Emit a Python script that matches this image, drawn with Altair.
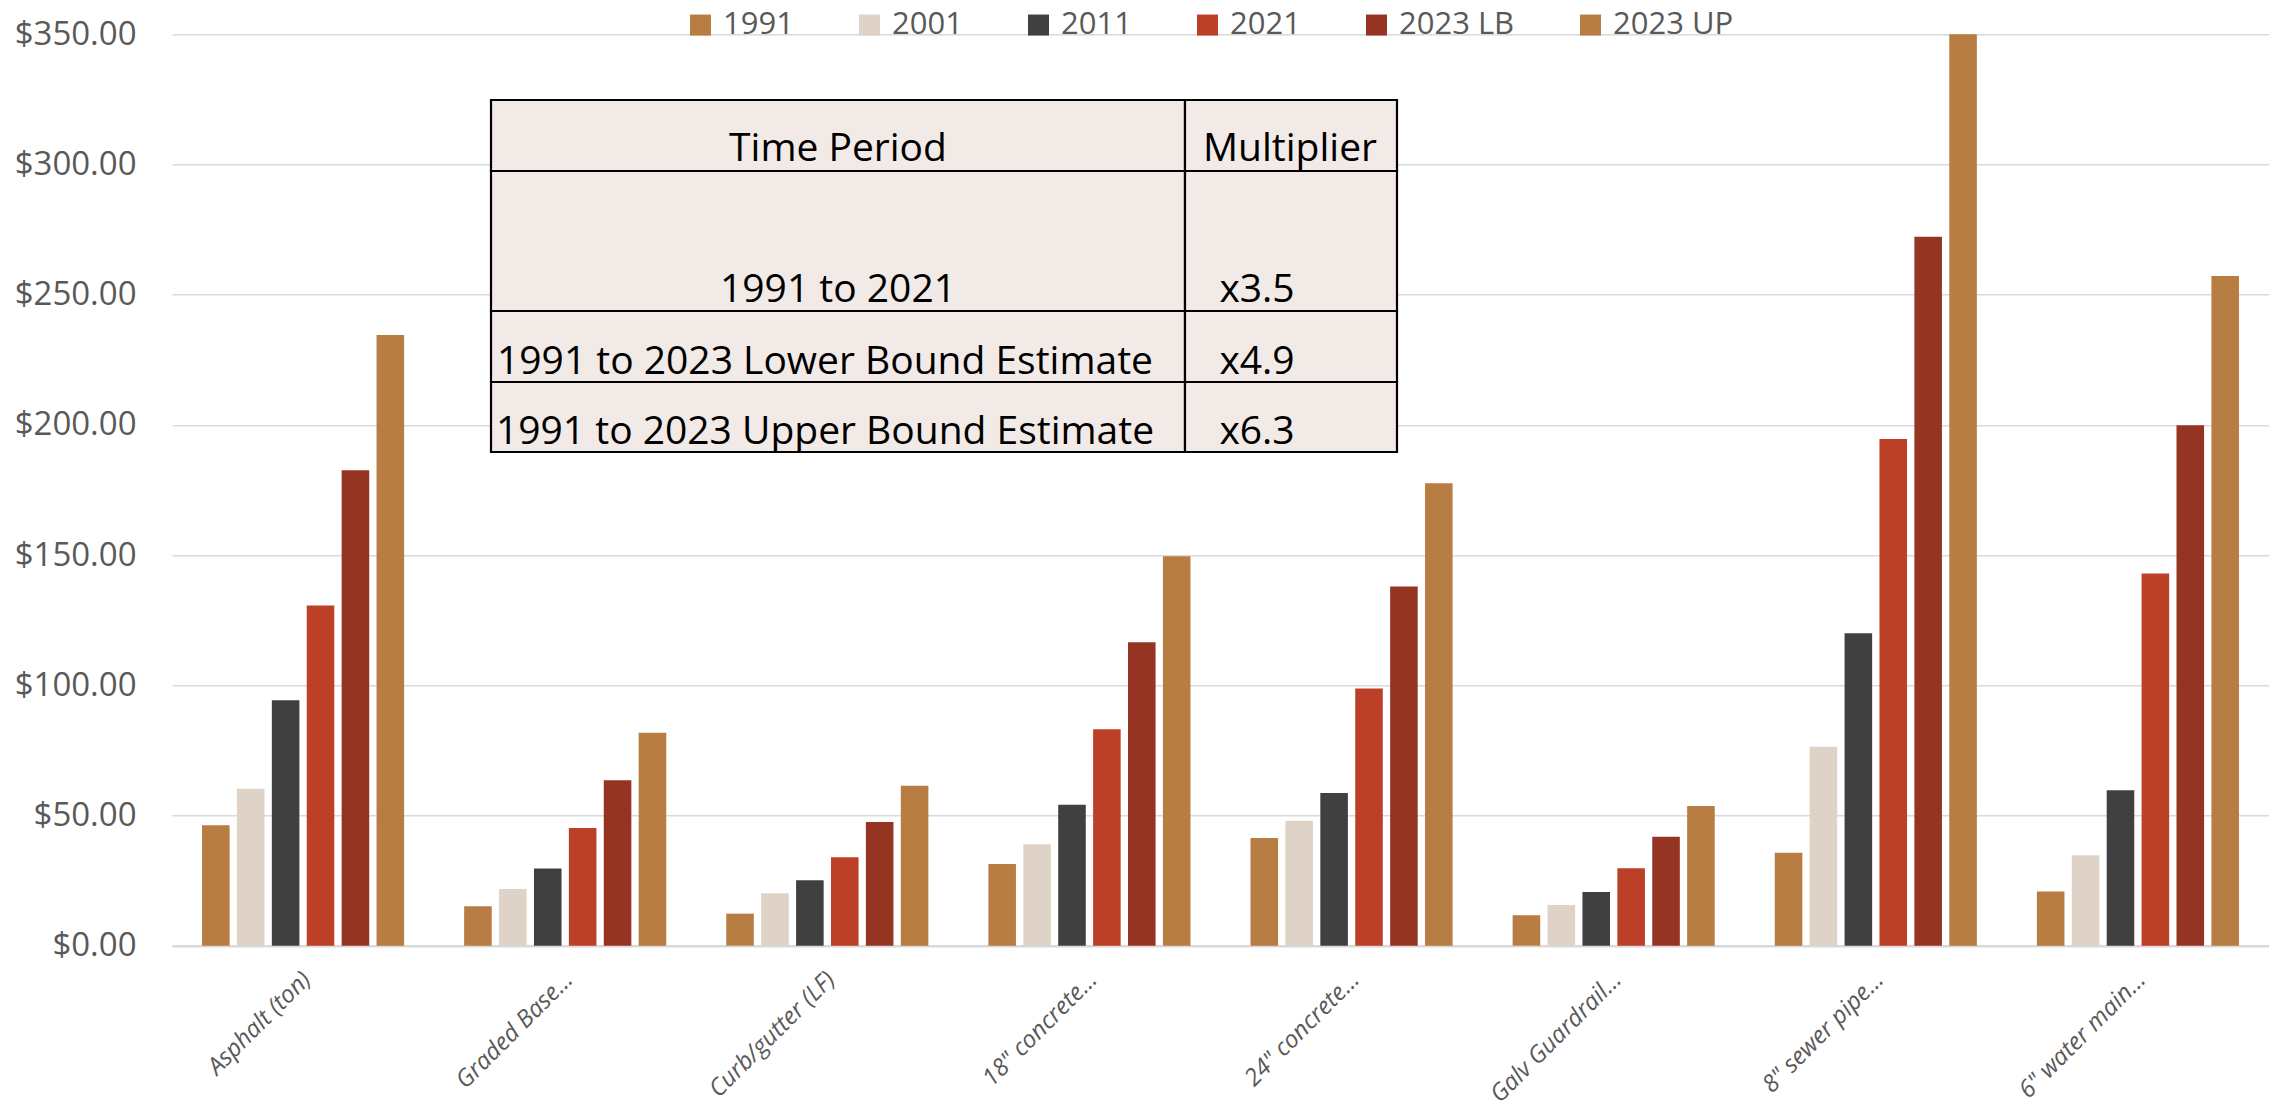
import altair as alt
import pandas as pd

# ---------------- data ----------------
categories = ["Asphalt (ton)", "Graded Base…", "Curb/gutter (LF)", "18\" concrete…",
              "24\" concrete…", "Galv Guardrail…", "8\" sewer pipe…", "6\" water main…"]
series = ["1991", "2001", "2011", "2021", "2023 LB", "2023 UP"]
v1991 = [46.3, 15.1, 12.3, 31.4, 41.4, 11.7, 35.7, 20.8]
v2001 = [60.3, 21.8, 20.1, 39.0, 48.0, 15.6, 76.4, 34.7]
v2011 = [94.3, 29.6, 25.1, 54.1, 58.6, 20.6, 120.0, 59.7]
v2021 = [130.6, 45.2, 34.0, 83.1, 98.8, 29.7, 194.6, 142.9]
v2023lb = [182.6, 63.5, 47.5, 116.5, 137.9, 41.8, 272.3, 199.9]
v2023up = [234.5, 81.8, 61.4, 149.6, 177.6, 53.6, 350.0, 257.2]
y_ticks = [0, 50, 100, 150, 200, 250, 300, 350]

table_header = ["Time Period", "Multiplier"]
periods = ["1991 to 2021", "1991 to 2023 Lower Bound Estimate", "1991 to 2023 Upper Bound Estimate"]
multipliers = ["x3.5", "x4.9", "x6.3"]

colors = ["#B87D42", "#DFD3C8", "#404040", "#BB4027", "#963424", "#B87D42"]

# ---------------- layout ----------------
PLOT_W, PLOT_H = 2097, 911.4
PAD_L, PAD_T = 164, 26.3
GRID = "#D9D9D9"
TXT = "#595959"

all_vals = [v1991, v2001, v2011, v2021, v2023lb, v2023up]
rows = []
for s, vals in zip(series, all_vals):
    for c, v in zip(categories, vals):
        rows.append({"category": c, "series": s, "value": v})
df = pd.DataFrame(rows)

bars = alt.Chart(df).mark_bar().encode(
    x=alt.X("category:N", sort=categories, title=None,
            scale=alt.Scale(paddingInner=0.229, paddingOuter=0.1145),
            axis=alt.Axis(labelAngle=-45, labelAlign="right", labelBaseline="middle",
                          labelPadding=30, labelOffset=4, ticks=False, tickSize=0,
                          domain=True, domainColor=GRID, domainWidth=2.5, grid=False,
                          labelFont="Open Sans", labelFontStyle="italic", labelFontSize=24,
                          labelColor=TXT, labelLimit=400)),
    xOffset=alt.XOffset("series:N", sort=series,
                        scale=alt.Scale(paddingInner=0.21, paddingOuter=0)),
    y=alt.Y("value:Q", title=None,
            scale=alt.Scale(domain=[0, 350], nice=False, zero=True),
            axis=alt.Axis(values=y_ticks, format="$.2f", domain=False, ticks=False, tickSize=0,
                          grid=True, gridColor=GRID, gridWidth=1.5, labelPadding=36,
                          labelFont="Open Sans", labelFontSize=33, labelColor=TXT,
                          minExtent=164, maxExtent=164)),
    color=alt.Color("series:N", sort=series,
                    scale=alt.Scale(domain=series, range=colors),
                    legend=alt.Legend(title=None, orient="none", legendX=513, legendY=-25,
                                      direction="horizontal", symbolType="square",
                                      symbolSize=441, symbolStrokeWidth=0, labelFontSize=31,
                                      labelFont="Open Sans", labelColor=TXT, labelOffset=7,
                                      columnPadding=60, padding=0)),
)

# ---------------- table overlay (pixel layout relative to plot area) ----------------
col_x = [319, 1013, 1225]
row_y = [65.7, 136.7, 276.7, 347.7, 417.7]
cells = []
for r in range(4):
    for c in range(2):
        cells.append({"x0": col_x[c], "x1": col_x[c + 1], "y0": row_y[r], "y1": row_y[r + 1]})
cells_df = pd.DataFrame(cells)

texts = [
    {"label": table_header[0], "tx": 666, "ty": 114.7},
    {"label": table_header[1], "tx": 1118, "ty": 114.7},
]
period_x = [666, 653, 653]
text_y = [255.7, 327.7, 397.7]
for p, m, px, ty in zip(periods, multipliers, period_x, text_y):
    texts.append({"label": p, "tx": px, "ty": ty})
    texts.append({"label": m, "tx": 1085, "ty": ty})
texts_df = pd.DataFrame(texts)

table_rects = alt.Chart(cells_df).mark_rect(fill="#F2EAE6", stroke="#000000", strokeWidth=2.2).encode(
    x=alt.X("x0:Q", scale=None, axis=None),
    x2="x1:Q",
    y=alt.Y("y0:Q", scale=None, axis=None),
    y2="y1:Q",
)

table_text = alt.Chart(texts_df).mark_text(
    font="Open Sans", fontSize=39, color="#000000", align="center", baseline="middle"
).encode(
    x=alt.X("tx:Q", scale=None, axis=None),
    y=alt.Y("ty:Q", scale=None, axis=None),
    text="label:N",
)

chart = alt.layer(bars, table_rects, table_text).resolve_scale(
    x="independent", y="independent"
).properties(
    width=PLOT_W, height=PLOT_H,
    autosize=alt.AutoSizeParams(type="none"),
    padding={"left": PAD_L, "top": PAD_T, "right": 0, "bottom": 164},
).configure_view(stroke="transparent")

chart.save("out.html", embed_options={"renderer": "svg", "actions": False})
